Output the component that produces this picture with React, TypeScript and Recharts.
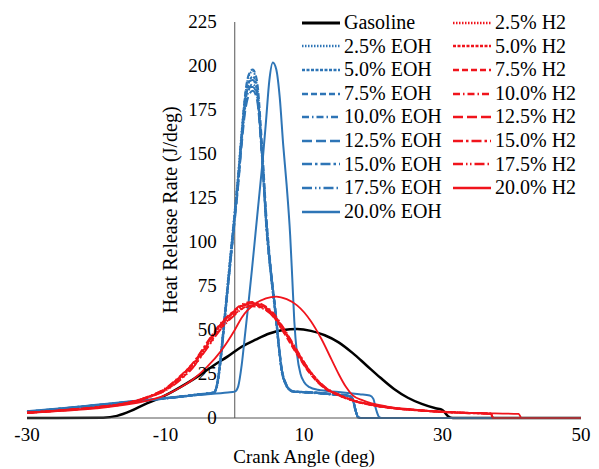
import React from 'react';
import { LineChart, Line, XAxis, YAxis, ReferenceLine, Legend } from 'recharts';

const xTicks = [-30, -10, 10, 30, 50];
const yTicks = [0, 25, 50, 75, 100, 125, 150, 175, 200, 225];

// Gasoline
const gasAngle = [-30, -19, -17, -15, -13, -11, -9, -7, -5, -3, -1, 1, 3, 5, 7, 9, 11, 13, 15, 17, 19, 21, 23, 25, 27, 29, 30, 30.8, 31.5, 50];
const gasHrr = [0, 0.2, 1.2, 4, 7.8, 11, 15, 19.5, 24.5, 30, 35, 40.5, 44.5, 48, 50, 50.5, 49.5, 47, 43, 37, 30, 23, 16.5, 11.5, 8, 5.5, 4.5, 1, 0, 0];

// Ethanol 2.5% .. 17.5% share the same crank angles
const eohAngle = [-30, -25, -20, -15, -10, -5, -3, -2.5, -2, -1.5, -1, -0.5, 0, 0.5, 1, 1.5, 2, 2.6, 3.2, 3.9, 4.6, 5.3, 5.9, 6.4, 6.8, 7.3, 7.8, 8.5, 11, 14, 16.5, 17, 17.4, 17.8, 18.2, 50];
const eoh25 = [3.4, 5.2, 7.1, 9.1, 11.1, 13.4, 14.4, 21, 37, 57, 78, 98, 118, 139, 163, 183, 194, 197, 189, 153, 108, 79, 59, 39, 26, 19.5, 16.3, 14.9, 14.4, 13.4, 12.4, 10.5, 4.5, 0.4, 0, 0];
const eoh50 = [3.6, 5.4, 7.3, 9.3, 11.3, 13.6, 14.6, 19, 33, 53, 73, 93, 113, 133, 158, 178, 190, 194, 188, 152, 107, 78, 58, 38, 26, 19.5, 16.5, 15.1, 14.6, 13.6, 12.6, 11.5, 5.5, 0.6, 0, 0];
const eoh75 = [3.5, 5.3, 7.2, 9.2, 11.2, 13.5, 14.5, 20, 36, 56, 76, 97, 117, 138, 162, 184, 195, 198, 192, 158, 113, 82, 61, 41, 28, 20.5, 16.8, 15.2, 14.7, 13.7, 12.7, 11.2, 5.2, 0.5, 0, 0];
const eoh100 = [3.3, 5.1, 7.0, 9.0, 11.0, 13.3, 14.3, 19.5, 34, 54, 74, 94, 114, 134, 157, 176, 186, 190, 184, 150, 106, 78, 58, 39, 26.5, 19.8, 16.4, 14.9, 14.3, 13.3, 12.3, 10.8, 4.8, 0.4, 0, 0];
const eoh125 = [3.4, 5.2, 7.1, 9.1, 11.1, 13.4, 14.4, 20.5, 36, 55, 74, 93, 112, 132, 155, 174, 183, 186, 181, 150, 108, 80, 60, 40, 27.5, 20.2, 16.6, 15.0, 14.5, 13.5, 12.5, 11.0, 5.0, 0.5, 0, 0];
const eoh150 = [3.6, 5.4, 7.3, 9.3, 11.3, 13.6, 14.6, 20, 35, 55, 76, 96, 116, 137, 161, 181, 191, 192, 186, 154, 111, 81, 60, 40, 27, 20, 16.5, 15.0, 14.5, 13.5, 12.5, 11.1, 5.1, 0.5, 0, 0];
const eoh175 = [3.5, 5.3, 7.2, 9.2, 11.2, 13.5, 14.5, 19.5, 35, 54, 75, 95, 115, 136, 159, 179, 188, 188, 183, 152, 109, 80, 59, 39.5, 27, 20, 16.5, 15.0, 14.5, 13.5, 12.5, 11.0, 5.0, 0.5, 0, 0];
const eoh200Angle = [-30, -25, -20, -15, -10, -5, -1, 0, 0.5, 1, 1.5, 2, 2.5, 3, 3.5, 4, 4.5, 5, 5.5, 6, 6.5, 7, 7.5, 8, 8.3, 8.6, 9, 9.5, 10, 10.8, 12, 15, 18, 19.5, 20, 20.4, 20.8, 21.2, 50];
const eoh200 = [3.8, 5.5, 7.5, 9.5, 11.3, 13.2, 14.5, 15, 18, 30, 48, 66, 85, 105, 125, 145, 168, 192, 202, 198, 182, 155, 132, 104, 80, 55, 36, 25, 20.5, 17.5, 16, 14.8, 13.5, 12.8, 11, 5, 0.8, 0, 0];

// Hydrogen 2.5% .. 17.5% share the same crank angles
const h2Angle = [-30, -25, -20, -15, -12, -10, -8, -6, -4, -2, 0, 1, 2.5, 4, 5.5, 7, 9, 11, 13, 15, 17, 19, 22, 26, 30, 34, 36, 37, 37.3, 50];
const h2_25 = [3.0, 4.3, 6.0, 8.8, 12.5, 16, 22, 30, 41, 52, 60, 63, 65, 63.5, 59, 50, 37, 25, 17, 13, 10, 8, 6, 4.5, 3.5, 2.8, 2.6, 2.4, 0, 0];
const h2_50 = [3.1, 4.4, 6.1, 9.0, 12.8, 16.5, 23, 31, 42, 53, 61, 64, 65.5, 64, 59.5, 51, 38, 26, 17.5, 13.2, 10.2, 8.1, 6.1, 4.6, 3.6, 2.9, 2.7, 2.5, 0, 0];
const h2_75 = [2.9, 4.2, 5.9, 8.7, 12.3, 15.8, 21.5, 29, 40, 51, 59, 62, 64, 62.5, 58, 49, 36, 24.5, 16.8, 12.8, 9.9, 7.9, 5.9, 4.4, 3.4, 2.7, 2.5, 2.3, 0, 0];
const h2_100 = [3.0, 4.4, 6.2, 9.1, 13, 17, 23.5, 31.5, 43, 54, 61.5, 64.5, 66, 64.5, 60, 51.5, 38.5, 26, 17.8, 13.4, 10.3, 8.2, 6.2, 4.6, 3.6, 2.9, 2.7, 2.5, 0, 0];
const h2_125 = [3.0, 4.3, 6.0, 8.9, 12.6, 16.2, 22.5, 30.5, 41.5, 52.5, 60.5, 63.5, 64.5, 63, 58.5, 50, 37.5, 25.5, 17.2, 13.1, 10.1, 8.0, 6.0, 4.5, 3.5, 2.8, 2.6, 2.4, 0, 0];
const h2_150 = [3.1, 4.5, 6.2, 9.1, 12.9, 16.8, 23.2, 31.2, 42.5, 53.5, 61, 63.8, 65.2, 63.8, 59.2, 50.5, 37.8, 25.8, 17.4, 13.2, 10.2, 8.1, 6.1, 4.6, 3.6, 2.9, 2.7, 2.5, 0, 0];
const h2_175 = [2.9, 4.2, 5.9, 8.6, 12.2, 15.6, 21.2, 28.8, 39.5, 50.5, 58.5, 61.8, 63.5, 62.2, 57.8, 49.2, 36.5, 24.8, 16.9, 12.9, 9.9, 7.9, 5.9, 4.4, 3.4, 2.7, 2.5, 2.3, 0, 0];
const h2_200Angle = [-30, -25, -20, -15, -12, -10, -8, -6, -4, -2, 0, 1, 3, 4.5, 6, 7.5, 9, 11, 12.5, 14, 15, 16, 17, 18.5, 22, 26, 30, 35, 41, 41.4, 50];
const h2_200 = [2.8, 4.0, 5.5, 8.0, 10.5, 13, 17, 22, 29, 38, 50, 57, 65, 68, 69, 67.5, 64, 55, 45, 33, 25, 18, 13, 10, 6.5, 4.8, 3.5, 2.8, 2.3, 0, 0];

const W = 599;
const H = 469;
const MARGIN = { top: 22, right: 18, left: 26, bottom: 21 };
const Y_AXIS_W = 1;
const X_MIN = -30;
const X_MAX = 50;
const FONT = "'Liberation Serif', 'Times New Roman', serif";
const BLUE = '#2e75b6';
const RED = '#f0141c';

const dashes = ['1.5 1.5', '3 1.5', '6 3', '7 3 1.5 3', '10 4', '10 3 2.5 3', '10 3 1.5 2.5 1.5 3', undefined];

const pts = (a: number[], v: number[]) => a.map((x, i) => ({ x, y: v[i] }));

type Series = { name: string; color: string; dash?: string; width: number; data: { x: number; y: number }[] };

const eohNames = ['2.5% EOH', '5.0% EOH', '7.5% EOH', '10.0% EOH', '12.5% EOH', '15.0% EOH', '17.5% EOH', '20.0% EOH'];
const h2Names = ['2.5% H2', '5.0% H2', '7.5% H2', '10.0% H2', '12.5% H2', '15.0% H2', '17.5% H2', '20.0% H2'];
const eohData = [eoh25, eoh50, eoh75, eoh100, eoh125, eoh150, eoh175].map((v) => pts(eohAngle, v)).concat([pts(eoh200Angle, eoh200)]);
const h2Data = [h2_25, h2_50, h2_75, h2_100, h2_125, h2_150, h2_175].map((v) => pts(h2Angle, v)).concat([pts(h2_200Angle, h2_200)]);

const series: Series[] = [
  { name: 'Gasoline', color: '#000', width: 2.5, data: pts(gasAngle, gasHrr) },
  ...eohNames.map((name, i) => ({ name, color: BLUE, dash: dashes[i], width: 2, data: eohData[i] })),
  ...h2Names.map((name, i) => ({ name, color: RED, dash: dashes[i], width: 1.8, data: h2Data[i] })),
];

// pixel position of crank angle 0, where the vertical axis crosses
const plotLeft = MARGIN.left + Y_AXIS_W;
const zeroX = plotLeft + ((0 - X_MIN) / (X_MAX - X_MIN)) * (W - plotLeft - MARGIN.right);

const YTick = (props: any) => {
  const { y, payload } = props;
  return (
    <text x={zeroX - 18} y={y} dy={6} textAnchor="end" fontSize={19} fontFamily={FONT} fill="#000">
      {payload.value}
    </text>
  );
};

const YTitle = () => (
  <text x={170} y={210} transform="rotate(-90 170 210)" textAnchor="middle" dy={7} fontSize={20} fontFamily={FONT} fill="#000">
    Heat Release Rate (J/deg)
  </text>
);

const LegendBox = () => (
  <div
    style={{
      display: 'grid',
      gridTemplateColumns: '151px 150px',
      gridTemplateRows: 'repeat(9, 23.6px)',
      gridAutoFlow: 'column',
      fontFamily: FONT,
      fontSize: 20,
      color: '#000',
    }}
  >
    {series.map((s) => (
      <div key={s.name} style={{ display: 'flex', alignItems: 'center', height: 23.6, whiteSpace: 'nowrap' }}>
        <svg width={40} height={8} style={{ flex: 'none' }}>
          <line x1={1} x2={39} y1={4} y2={4} stroke={s.color} strokeWidth={s.name === 'Gasoline' ? 3 : 2.5} strokeDasharray={s.dash} />
        </svg>
        <span style={{ marginLeft: 3, lineHeight: '23.6px' }}>{s.name}</span>
      </div>
    ))}
  </div>
);

export default function App() {
  return (
    <div style={{ position: 'absolute', left: 0, top: 0, width: W, height: H, background: '#fff' }}>
      <LineChart width={W} height={H} margin={MARGIN}>
        <XAxis
          type="number"
          dataKey="x"
          domain={[X_MIN, X_MAX]}
          ticks={xTicks}
          height={30}
          tickLine={false}
          tickSize={0}
          tickMargin={10}
          axisLine={{ stroke: '#555' }}
          tick={{ fontSize: 19, fontFamily: FONT, fill: '#000' }}
          label={{ value: 'Crank Angle (deg)', position: 'bottom', offset: 2, fontSize: 19, fontFamily: FONT, fill: '#000' }}
        />
        <YAxis
          type="number"
          domain={[0, 225]}
          ticks={yTicks}
          width={Y_AXIS_W}
          axisLine={false}
          tickLine={false}
          tick={<YTick />}
          label={<YTitle />}
        />
        <ReferenceLine x={0} stroke="#555" strokeWidth={1} />
        <Legend
          layout="vertical"
          align="center"
          verticalAlign="middle"
          content={<LegendBox />}
          wrapperStyle={{ left: 301, top: 11, width: 300, height: 215 }}
        />
        {series.map((s) => (
          <Line
            key={s.name}
            data={s.data}
            dataKey="y"
            name={s.name}
            type="monotone"
            stroke={s.color}
            strokeWidth={s.width}
            strokeDasharray={s.dash}
            dot={false}
            activeDot={false}
            isAnimationActive={false}
          />
        ))}
      </LineChart>
    </div>
  );
}
